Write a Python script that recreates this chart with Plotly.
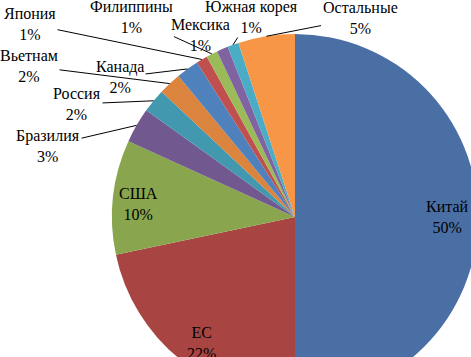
import math
import plotly.graph_objects as go

countries = ["Китай", "ЕС", "США", "Бразилия", "Россия", "Вьетнам", "Канада",
             "Япония", "Филиппины", "Мексика", "Южная корея", "Остальные"]
shares = [50.0, 21.7, 10.1, 3.1, 2.1, 2.0, 2.0, 1.0, 1.0, 1.0, 1.0, 5.0]
pct_labels = ["50%", "22%", "10%", "3%", "2%", "2%", "2%", "1%", "1%", "1%", "1%", "5%"]

colors = ["#4A6FA5", "#A84543", "#89A54E", "#71588F", "#4198AF", "#DB843D",
          "#4F81BD", "#C0504D", "#9BBB59", "#8064A2", "#4BACC6", "#F79646"]

# layout (pixels) — figure larger than the window so the pie is clipped like the original
W, H = 478, 400
CX, CY, R = 295, 217, 183
# label block centres (pixels)
label_pos = {
    "Китай": (447, 217), "ЕС": (201, 343), "США": (138, 204),
    "Бразилия": (48, 146), "Россия": (77, 104), "Вьетнам": (29, 66),
    "Канада": (120, 77), "Япония": (30, 24), "Филиппины": (131, 17),
    "Мексика": (200, 35), "Южная корея": (251, 17), "Остальные": (360, 18),
}
inside = {"Китай", "ЕС", "США"}

fig = go.Figure(go.Pie(
    labels=countries, values=shares, sort=False, direction="clockwise",
    rotation=0, marker=dict(colors=colors, line=dict(width=0)),
    textinfo="none", hoverinfo="label+percent", showlegend=False,
    domain=dict(x=[(CX - R) / W, (CX + R) / W], y=[(H - CY - R) / H, (H - CY + R) / H]),
))

font = dict(family="Liberation Serif", size=16, color="black")
total = sum(shares)
cum = 0.0
anns = []
for name, v, p in zip(countries, shares, pct_labels):
    mid = (cum + v / 2) / total * 2 * math.pi
    cum += v
    tx, ty = label_pos[name]
    text = f"{name}<br>{p}"
    if name in inside:
        anns.append(dict(x=tx / W, y=1 - ty / H, xref="paper", yref="paper",
                         xanchor="center", yanchor="middle",
                         text=text, showarrow=False, font=font))
    else:
        px = CX + R * math.sin(mid)
        py = CY - R * math.cos(mid)
        anns.append(dict(x=px / W, y=1 - py / H, xref="paper", yref="paper",
                         text=text, showarrow=True, arrowhead=0, arrowwidth=1,
                         arrowcolor="black", standoff=0,
                         ax=tx - px, ay=ty - py, font=font))

fig.update_layout(width=W, height=H, margin=dict(l=0, r=0, t=0, b=0),
                  font=font, paper_bgcolor="white", plot_bgcolor="white",
                  annotations=anns)

fig.write_html("out.html", post_script="document.documentElement.style.overflow='hidden';document.body.style.overflow='hidden';")
